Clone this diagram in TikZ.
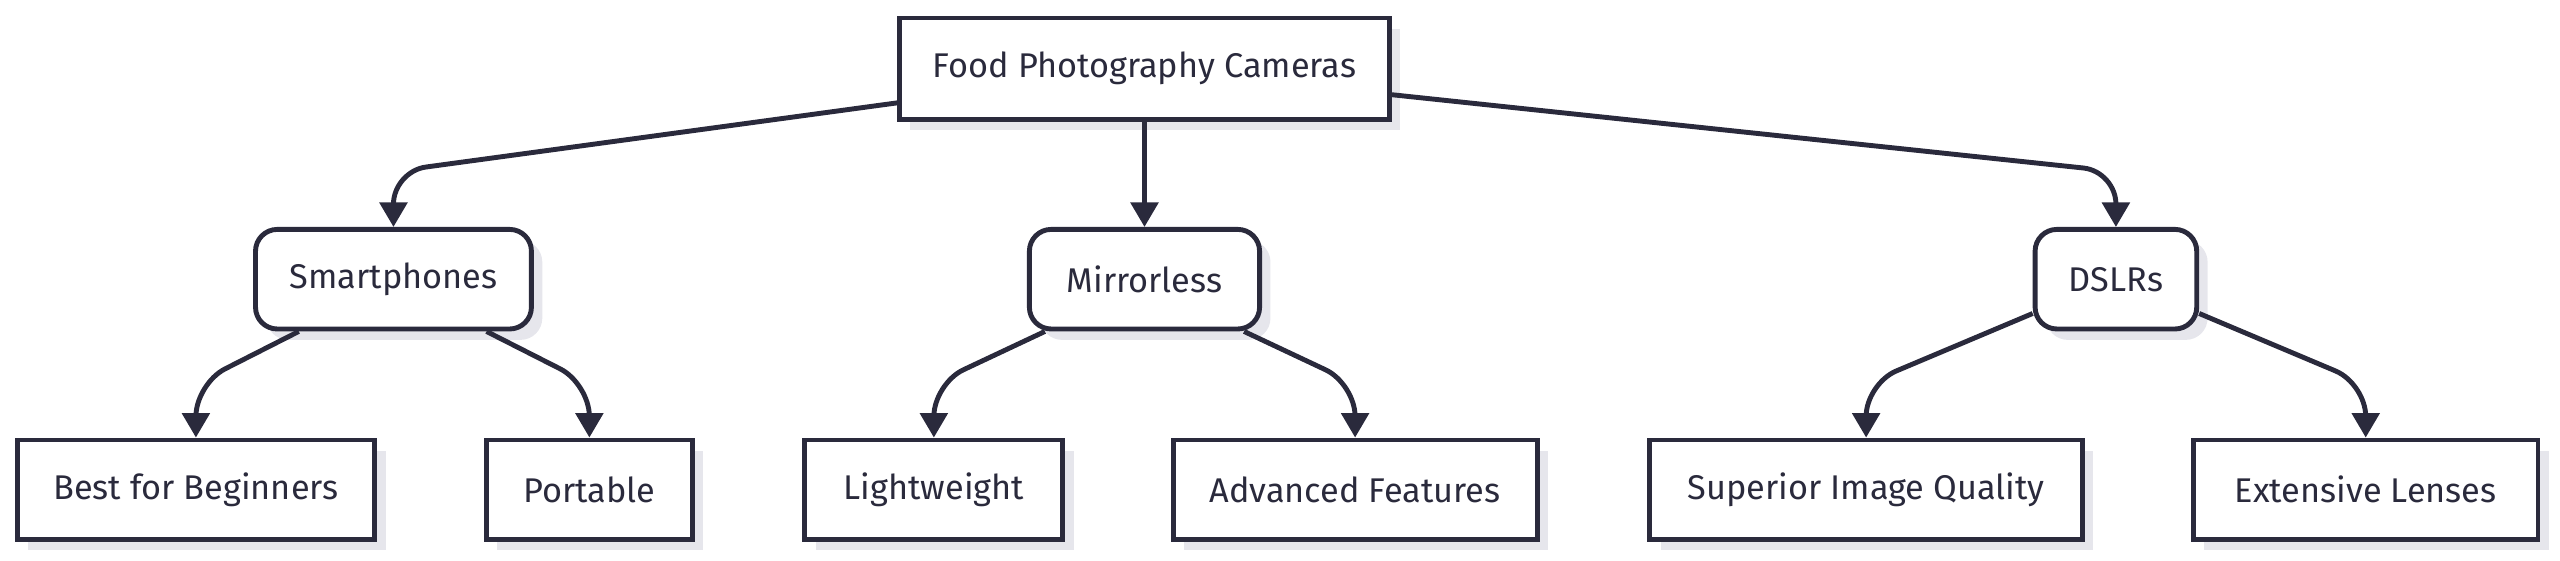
\documentclass[tikz,border=0pt]{standalone}
\usepackage{fontspec}
\setmainfont{Fira Sans}
\usetikzlibrary{arrows.meta,shadows}
\definecolor{ink}{HTML}{2A2A3C}
\definecolor{shd}{HTML}{E6E6EC}
\begin{document}
\begin{tikzpicture}[x=0.3pt,y=-0.3pt,
  box/.style={draw=ink,line width=0.9pt,fill=white,inner sep=0pt,font=\fontsize{6.3}{7}\selectfont\color{ink},
    drop shadow={shadow xshift=2pt,shadow yshift=-2pt,fill=shd,opacity=1}},
  rbox/.style={box,rounded corners=4pt},
  arr/.style={draw=ink,line width=0.9pt,-{Triangle[width=5pt,length=4.5pt]},rounded corners=6pt}]
\useasboundingbox (0,0) rectangle (1568,343);
\node[box,minimum width=90pt,minimum height=18.6pt] (root) at (701,42) {Food Photography Cameras};
\node[rbox,minimum width=50.7pt,minimum height=18.3pt] (sm) at (241,171) {Smartphones};
\node[rbox,minimum width=42.3pt,minimum height=18.3pt] (mi) at (701,171) {Mirrorless};
\node[rbox,minimum width=29.7pt,minimum height=18.3pt] (ds) at (1296,171) {DSLRs};
\node[box,minimum width=65.7pt,minimum height=18.3pt] (l1) at (120,300) {Best for Beginners};
\node[box,minimum width=37.8pt,minimum height=18.3pt] (l2) at (361,300) {Portable};
\node[box,minimum width=47.4pt,minimum height=18.3pt] (l3) at (572,300) {Lightweight};
\node[box,minimum width=66.9pt,minimum height=18.3pt] (l4) at (830,300) {Advanced Features};
\node[box,minimum width=79.5pt,minimum height=18.3pt] (l5) at (1143,300) {Superior Image Quality};
\node[box,minimum width=63.3pt,minimum height=18.3pt] (l6) at (1449,300) {Extensive Lenses};
\draw[arr] (root.west |- 0,63) -- (241,105) -- (sm.north);
\draw[arr] (root.south) -- (mi.north);
\draw[arr] (root.east |- 0,58) -- (1296,105) -- (ds.north);
\draw[arr] (sm.south -| 183,0) -- (120,235) -- (l1.north);
\draw[arr] (sm.south -| 298,0) -- (361,235) -- (l2.north);
\draw[arr] (mi.south -| 640,0) -- (572,235) -- (l3.north);
\draw[arr] (mi.south -| 762,0) -- (830,235) -- (l4.north);
\draw[arr] (ds.west |- 0,192) -- (1143,235) -- (l5.north);
\draw[arr] (ds.east |- 0,192) -- (1449,235) -- (l6.north);
\end{tikzpicture}
\end{document}
